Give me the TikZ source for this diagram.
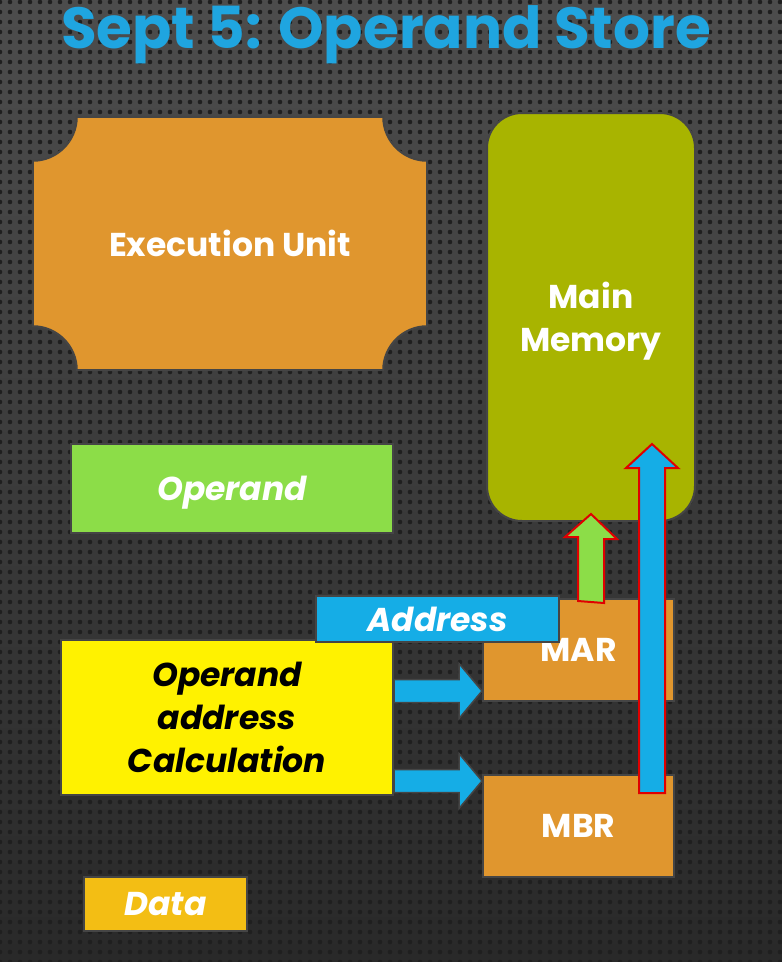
\documentclass[tikz,border=0pt]{standalone}
\usepackage{fontspec}
\setmainfont{Poppins}
\usepackage{tikz}
\usetikzlibrary{calc,positioning,patterns.meta}

\definecolor{titleblue}{HTML}{1FA5E0}
\definecolor{unitorange}{HTML}{E0962E}
\definecolor{memolive}{HTML}{A8B400}
\definecolor{opgreen}{HTML}{8CDD48}
\definecolor{addrblue}{HTML}{15ADE6}
\definecolor{datagold}{HTML}{F3BE14}
\definecolor{edgegray}{HTML}{454545}
\definecolor{arrowred}{HTML}{E00000}

\begin{document}
\begin{tikzpicture}[x=1pt,y=-1pt,node distance=176pt]
  \tikzstyle{box}=[rectangle,draw=edgegray,line width=2pt,align=center,
                   text depth=0pt,text=white,
                   font=\fontsize{33}{43}\selectfont\bfseries]
  \tikzstyle{tag}=[box,font=\fontsize{33}{43}\selectfont\bfseries\itshape]
  \tikzstyle{bluearrow}=[draw=edgegray,line width=1.5pt,fill=addrblue]
  \tikzstyle{redarrow}=[draw=arrowred,line width=2pt]

  \useasboundingbox (0,0) rectangle (782,962);
  % dotted dark background
  \fill[top color=black!70,bottom color=black!84] (0,0) rectangle (782,962);
  \fill[pattern={Dots[distance=10pt,radius=2.3pt]},pattern color=black!88]
    (0,0) rectangle (782,962);

  \node (title) at (386,48) [anchor=base,text=titleblue,
        font=\fontsize{58}{60}\selectfont\bfseries] {Sept 5: Operand Store};

  % execution unit with cut corners
  \node (exec) at (230,243.5) [minimum width=394,minimum height=253] {};
  \filldraw[fill=unitorange,draw=edgegray,line width=2pt]
    ($(exec.north west)+(44,0)$) -- ($(exec.north east)+(-44,0)$)
    arc[start angle=180,end angle=270,radius=44pt]
    -- ($(exec.south east)+(0,-44)$)
    arc[start angle=90,end angle=180,radius=44pt]
    -- ($(exec.south west)+(44,0)$)
    arc[start angle=0,end angle=90,radius=44pt]
    -- ($(exec.north west)+(0,44)$)
    arc[start angle=-90,end angle=0,radius=44pt] -- cycle;
  \node[box,draw=none] at (exec) {Execution Unit};

  \node[box] (mem) at (591,317) [fill=memolive,rounded corners=35pt,
        minimum width=208,minimum height=408] {Main\\Memory};
  \node[tag] (operand) at (232,488) [fill=opgreen,
        minimum width=322,minimum height=89] {Operand};
  \node[tag] (calc) at (227,717.5) [fill=yellow,text=black,
        minimum width=332,minimum height=155] {Operand\\address\\Calculation};
  \node[box] (mar) at (578.5,650) [fill=unitorange,
        minimum width=191,minimum height=102] {MAR};
  \node[box] (mbr) [below of=mar,fill=unitorange,
        minimum width=191,minimum height=102] {MBR};

  \foreach \y/\dst in {691/mar,781/mbr}{
    \coordinate (a) at (calc.east |- 0,\y);
    \draw[bluearrow] ($(a)+(0,-11.5)$) -- ($(\dst.west |- a)+(-23,-11.5)$)
      -- ++(0,-16) -- (\dst.west |- a) -- ++(-23,27.5) -- ++(0,-16)
      -- ($(a)+(0,11.5)$) -- cycle;
  }

  % address goes up to memory
  \draw[redarrow,fill=opgreen] ($(mem.south |- mar.north)+(-13,3)$)
    -- ++(0,-64) -- ++(-13,0) -- ($(mem.south)+(0,-8)$) -- ++(26,25)
    -- ++(-13,0) -- ++(0,64) -- cycle;

  \node[tag] (address) at (437.5,619) [fill=addrblue,
        minimum width=243,minimum height=46] {Address};

  % data goes up to memory
  \coordinate (wr) at ($(mbr.north)+(73.5,19)$);
  \coordinate (wt) at ($(mem.south)+(61,-78)$);
  \draw[redarrow,fill=addrblue] ($(wr)+(-13,0)$) -- ($(wt)+(-13,24)$)
    -- ++(-13,0) -- (wt) -- ++(26,24) -- ++(-13,0)
    -- ($(wr)+(13,0)$) -- cycle;

  \node[tag] (data) at (165.5,904) [fill=datagold,
        minimum width=163,minimum height=54] {Data};
\end{tikzpicture}
\end{document}
